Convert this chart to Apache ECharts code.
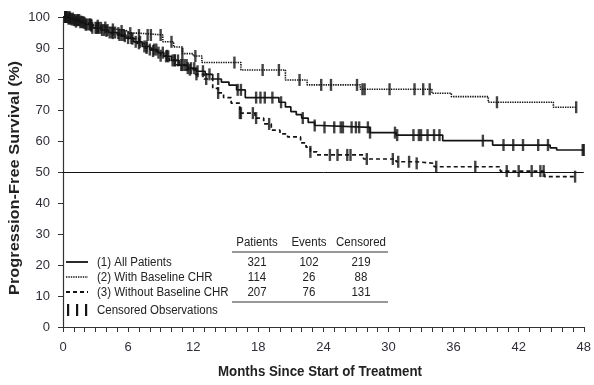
<!DOCTYPE html>
<html>
<head>
<meta charset="utf-8">
<script src="https://cdn.jsdelivr.net/npm/echarts@6/dist/echarts.min.js"></script>
<style>
  html, body { margin: 0; padding: 0; background: #fff; }
  #chart { width: 594px; height: 385px; }
</style>
</head>
<body>
<div id="chart"></div>
<script>
// x ticks (months) and y ticks (%)
const monthTicks = [0, 6, 12, 18, 24, 30, 36, 42, 48];
const pctTicks = [0, 10, 20, 30, 40, 50, 60, 70, 80, 90, 100];

// Kaplan-Meier step points [month, survival %]
const allPatients = [
  [0,100],[0.5,99.5],[1,99],[1.5,98.3],[2,97.6],[2.7,96.5],[3.5,95.8],[4.2,95],[5,94.2],
  [5.8,93.2],[6.5,92],[7.3,90.5],[8,89.5],[8.7,88.5],[9.3,87.3],[10,86],[10.7,84.5],
  [11.5,83.5],[12.3,82.5],[13.1,81.5],[13.8,80],[14.6,79],[15.3,78],[16,76.5],[16.8,74],
  [19.9,72.5],[20.5,71],[21,69.5],[21.5,68.5],[22,67.4],[22.6,66],[23.2,65],[23.7,64.4],
  [28.3,62.7],[30.7,61.9],[35,60.1],[39.6,58.7],[44.9,57.8],[45.5,57.1],[48,57.1]
];
const withCHR = [
  [0,100],[0.8,99],[1.6,98],[2.5,97.2],[3.4,96.6],[4.2,96],[5,95.5],[6,94.8],[7,94.2],
  [9.2,92],[10.2,90.3],[11,88.2],[12,87.4],[12.8,85.3],[16.4,82.9],[20.5,79.7],[22.5,78.1],
  [27.4,76.7],[34,75.4],[35.8,74.3],[39.2,72.5],[45.2,70.9],[47.3,70.9]
];
const withoutCHR = [
  [0,100],[0.6,99.2],[1.2,98.5],[2,97.5],[2.8,96.5],[3.6,95.5],[4.4,94.8],[5.2,93.8],
  [6,93],[6.8,91.5],[7.5,90],[8.2,89],[9,87.5],[9.8,86],[10.5,84.5],[11.3,83],[12.2,81.5],
  [13,80],[13.8,77],[14.3,75.5],[14.8,74],[15.5,72.2],[16.3,69],[17.7,67.4],[18.5,65.5],
  [19.2,63.5],[20,62.3],[20.7,61.3],[21.9,59.4],[22.4,58],[22.8,56.5],[23.4,55.5],
  [27.7,54.2],[30.7,53.3],[32.6,52.8],[34.2,51.7],[40.3,50.3],[44.4,48.5],[47.2,48.5]
];

// censored observation times (months)
const censAll = [
  0.2,0.3,0.5,0.6,0.7,0.9,1.1,1.3,1.4,1.6,1.8,1.9,2.2,2.4,2.5,2.7,3.0,3.2,3.3,3.6,3.8,4.1,
  4.3,4.5,4.8,5.2,5.4,5.6,6.0,6.3,6.7,7.1,7.5,7.7,8.0,8.4,8.6,8.8,9.2,9.5,9.7,10.1,10.3,
  10.6,10.9,11.2,11.4,11.5,11.8,12.1,12.4,12.9,13.5,
  14.3,16.1,16.4,17.8,18.2,18.6,19.3,20.1,22.1,23.2,24.1,25,25.6,25.8,26.6,27,27.3,
  28.1,28.3,30.6,30.8,32.3,32.8,33,33.6,34.2,34.7,38.7,40.6,41.5,42.4,43.8,44.7,47.9,48
];
const censWith = [
  0.2,0.6,1.0,1.5,2.0,2.6,3.2,3.9,4.6,5.4,6.2,7.0,7.8,8.1,9.0,10.0,11.0,12.2,
  15.8,18.4,19.9,21.8,23.8,24.7,27.1,27.6,27.8,30.1,32.4,33.2,33.8,40,47.3
];
const censWithout = [
  0.4,0.8,1.2,1.7,2.1,2.6,3.1,3.5,4.0,4.6,5.1,5.7,6.4,7.0,7.7,8.3,9.0,9.6,10.3,11.0,
  11.7,12.3,13.2,14.3,16.3,16.4,17.5,17.8,19,22.8,24.6,25.3,26.2,26.5,28,30.4,30.9,
  31.9,32.6,34.4,38,40.9,42,43.2,44,44.3,47.2
];

// summary table
const tableHead = ['Patients', 'Events', 'Censored'];
const tableRows = [['321','102','219'], ['114','26','88'], ['207','76','131']];
const legendNames = ['(1) All Patients', '(2) With Baseline CHR', '(3) Without Baseline CHR', 'Censored Observations'];

function stepAt(curve, m) {
  let v = curve[0][1];
  curve.forEach(p => { if (p[0] <= m) v = p[1]; });
  return v;
}
const marks = (curve, times) => times.map(t => [t, stepAt(curve, t)]);

const ink = '#141414';
const font = '"Liberation Sans", Arial, Helvetica, sans-serif';

const stepLine = (name, data, type, w) => ({
  name, type: 'line', step: 'end', data, showSymbol: false, silent: true,
  lineStyle: { color: ink, width: w, type }, z: 3
});
const censorSeries = (data) => ({
  type: 'scatter', data, symbol: 'rect', symbolSize: [2.4, 12], silent: true,
  itemStyle: { color: ink }, z: 4
});

// legend + table drawn as graphic pieces
const rowY = [262, 277, 292, 310];
const colX = [257, 309, 361];
const graphic = [];
const sample = [
  { type: 'solid', w: 1.8 }, { type: [1.4, 1], w: 1.6 }, { type: [4, 3], w: 1.8 }
];
sample.forEach((s, i) => graphic.push({
  type: 'line', shape: { x1: 66, y1: rowY[i], x2: 88, y2: rowY[i] },
  style: { stroke: ink, lineWidth: s.w, lineDash: s.type === 'solid' ? null : s.type }
}));
[68, 77, 86].forEach(x => graphic.push({
  type: 'rect', shape: { x: x - 1, y: rowY[3] - 6, width: 2.2, height: 12 }, style: { fill: ink }
}));
legendNames.forEach((t, i) => graphic.push({
  type: 'text', x: 97, y: rowY[i], scaleY: 1.12,
  style: { text: t, font: '11.5px ' + font, fill: '#222', align: 'left', verticalAlign: 'middle' }
}));
tableHead.forEach((t, j) => graphic.push({
  type: 'text', x: colX[j], y: 242, scaleY: 1.12,
  style: { text: t, font: '11.5px ' + font, fill: '#222', align: 'center', verticalAlign: 'middle' }
}));
tableRows.forEach((r, i) => r.forEach((t, j) => graphic.push({
  type: 'text', x: colX[j], y: rowY[i], scaleY: 1.12,
  style: { text: t, font: '11.5px ' + font, fill: '#222', align: 'center', verticalAlign: 'middle' }
})));
[252, 302].forEach(y => graphic.push({
  type: 'line', shape: { x1: 232, y1: y, x2: 388, y2: y }, style: { stroke: '#333', lineWidth: 1.2 }
}));
// axis titles
graphic.push({
  type: 'text', x: 320, y: 372, scaleY: 1.15,
  style: { text: 'Months Since Start of Treatment', font: 'bold 13.3px ' + font, fill: '#222', align: 'center', verticalAlign: 'middle' }
});
graphic.push({
  type: 'text', x: 15, y: 178, rotation: Math.PI / 2, scaleX: 1.17,
  style: { text: 'Progression-Free Survival (%)', font: 'bold 14px ' + font, fill: '#222', align: 'center', verticalAlign: 'middle' }
});

const option = {
  animation: false,
  grid: { left: 63, right: 5, top: 17, bottom: 58 },
  xAxis: {
    type: 'value', min: monthTicks[0], max: monthTicks[monthTicks.length - 1], interval: 6, offset: 4,
    axisLine: { lineStyle: { color: '#333', width: 1.2 } },
    axisTick: { show: true, length: 5, lineStyle: { color: '#333' } },
    minorTick: { show: true, splitNumber: 6, length: 5, lineStyle: { color: '#333' } },
    axisLabel: { fontSize: 13, color: '#2e2e38', margin: 10, fontFamily: font },
    splitLine: { show: false }
  },
  yAxis: {
    type: 'value', min: pctTicks[0], max: pctTicks[pctTicks.length - 1], interval: 10, offset: 5,
    axisLine: { show: true, lineStyle: { color: '#333', width: 1.2 } },
    axisTick: { show: true, length: 5, lineStyle: { color: '#333' } },
    axisLabel: { fontSize: 13, color: '#2e2e38', margin: 8, fontFamily: font },
    splitLine: { show: false }
  },
  series: [
    Object.assign(stepLine('All Patients', allPatients, 'solid', 1.7), {
      markLine: {
        silent: true, symbol: 'none', label: { show: false },
        lineStyle: { color: '#111', width: 1, type: 'solid' },
        data: [{ yAxis: 50 }]
      }
    }),
    stepLine('With Baseline CHR', withCHR, [1.4, 1], 1.6),
    stepLine('Without Baseline CHR', withoutCHR, [4, 3], 1.7),
    censorSeries(marks(allPatients, censAll)),
    censorSeries(marks(withCHR, censWith)),
    censorSeries(marks(withoutCHR, censWithout))
  ],
  graphic
};

const myChart = echarts.init(document.getElementById('chart'));
myChart.setOption(option);
window.addEventListener('resize', () => { myChart.resize(); });
</script>
</body>
</html>
